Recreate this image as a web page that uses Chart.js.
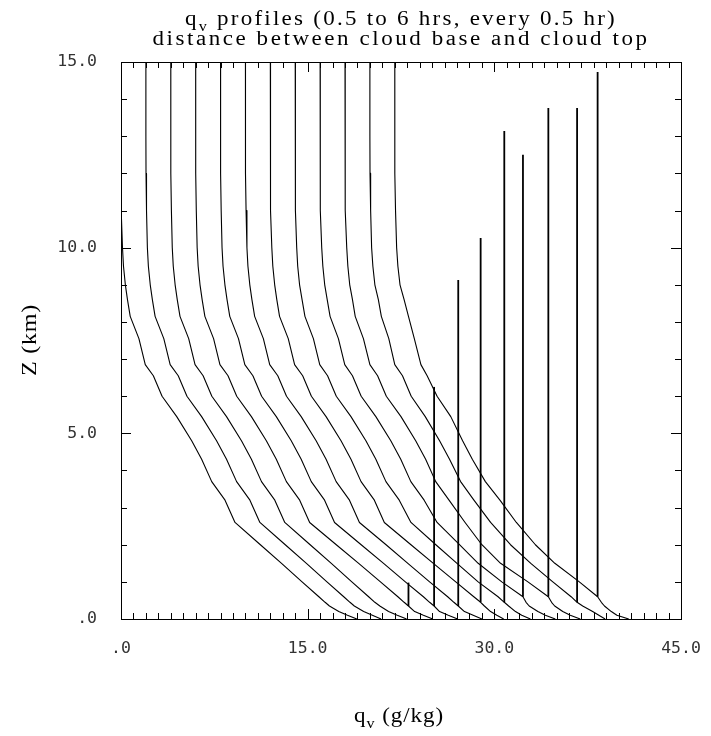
<!DOCTYPE html>
<html>
<head>
<meta charset="utf-8">
<script src="https://cdn.jsdelivr.net/npm/chart.js@4.4.0/dist/chart.umd.min.js"></script>
<style>
  html, body { margin: 0; padding: 0; background: #fff; }
</style>
</head>
<body>
<canvas id="qvChart" width="711" height="736"></canvas>
<script>
// height levels (km), shared by all profiles
const zLevels = [15, 14, 13, 12, 11, 10, 9.5, 9, 8.6, 8.15, 7.55, 6.85, 6.55, 6, 5.45, 4.8, 4.3, 3.7, 3.2, 2.6, 2, 1.5, 1, 0.6, 0.45, 0.35, 0.2, 0.1, 0];

// qv (g/kg) at each level, every profile plotted with its own offset as in the original
const qv_0_5h = [0, 0, 0, 0.01, 0.05, 0.12, 0.2, 0.35, 0.52, 0.74, 1.44, 1.95, 2.6, 3.3, 4.48, 5.68, 6.48, 7.29, 8.36, 9.16, 11.2, 12.9, 14.55, 15.9, 16.4, 16.75, 17.5, 18.2, 18.95];
const qv_1_0h = [2, 2, 2, 2.01, 2.05, 2.12, 2.2, 2.35, 2.52, 2.74, 3.44, 3.95, 4.6, 5.3, 6.48, 7.68, 8.48, 9.29, 10.36, 11.16, 13.2, 14.9, 16.55, 17.9, 18.4, 18.75, 19.5, 20.2, 20.9];
const qv_1_5h = [4, 4, 4, 4.01, 4.05, 4.12, 4.2, 4.35, 4.52, 4.74, 5.44, 5.95, 6.6, 7.3, 8.48, 9.68, 10.48, 11.29, 12.36, 13.16, 15.2, 16.9, 18.55, 19.9, 20.4, 20.8, 21.5, 22.2, 22.95];
const qv_2_0h = [6, 6, 6, 6.01, 6.05, 6.12, 6.2, 6.35, 6.52, 6.74, 7.44, 7.95, 8.6, 9.3, 10.48, 11.68, 12.48, 13.29, 14.36, 15.16, 17.3, 19.1, 20.85, 22.25, 22.75, 23.1, 23.6, 24.3, 25.05];
const qv_2_5h = [8, 8, 8, 8.01, 8.05, 8.12, 8.2, 8.35, 8.52, 8.74, 9.44, 9.95, 10.6, 11.3, 12.48, 13.68, 14.48, 15.29, 16.36, 17.16, 19.3, 21.1, 22.85, 24.3, 24.8, 25.16, 25.6, 26.3, 27.05];
const qv_3_0h = [10, 10, 10, 10.01, 10.05, 10.12, 10.2, 10.35, 10.52, 10.74, 11.44, 11.95, 12.6, 13.3, 14.48, 15.68, 16.48, 17.29, 18.36, 19.16, 21.3, 23.05, 24.8, 26.25, 26.75, 27.1, 27.6, 28.3, 29.0];
const qv_3_5h = [12, 12, 12, 12.01, 12.05, 12.12, 12.2, 12.35, 12.52, 12.74, 13.44, 13.95, 14.6, 15.3, 16.48, 17.68, 18.48, 19.29, 20.36, 21.16, 23.3, 25.1, 26.9, 28.35, 28.9, 29.2, 29.7, 30.2, 30.75];
const qv_4_0h = [14, 14, 14, 14.01, 14.05, 14.12, 14.2, 14.35, 14.55, 14.78, 15.46, 15.97, 16.6, 17.3, 18.48, 19.68, 20.48, 21.29, 22.36, 23.3, 25.3, 27.0, 28.7, 30.3, 30.8, 31.15, 31.7, 32.2, 32.9];
const qv_4_5h = [16, 16, 16, 16.01, 16.05, 16.13, 16.22, 16.37, 16.57, 16.8, 17.47, 17.98, 18.6, 19.3, 20.48, 21.68, 22.48, 23.29, 24.36, 25.4, 27.2, 28.7, 30.6, 32.3, 32.55, 32.8, 33.5, 34.1, 34.9];
const qv_5_0h = [18, 18, 18, 18.01, 18.06, 18.14, 18.23, 18.38, 18.6, 18.82, 19.48, 20.0, 20.62, 21.32, 22.5, 23.68, 24.48, 25.29, 26.36, 27.65, 29.0, 30.5, 32.7, 34.34, 34.6, 34.85, 35.5, 36.1, 36.9];
const qv_5_5h = [20, 20, 20, 20.01, 20.06, 20.14, 20.24, 20.4, 20.68, 20.92, 21.52, 22.0, 22.62, 23.32, 24.45, 25.6, 26.4, 27.29, 28.36, 29.7, 31.3, 32.93, 34.7, 36.17, 36.65, 37.1, 37.9, 38.4, 38.9];
const qv_6_0h = [22, 22, 22, 22.01, 22.06, 22.15, 22.25, 22.42, 22.75, 23.1, 23.57, 24.1, 24.6, 25.4, 26.5, 27.45, 28.23, 29.28, 30.45, 31.77, 33.3, 34.86, 36.83, 38.3, 38.6, 38.85, 39.4, 39.85, 40.8];

const profiles = [qv_0_5h, qv_1_0h, qv_1_5h, qv_2_0h, qv_2_5h, qv_3_0h, qv_3_5h, qv_4_0h, qv_4_5h, qv_5_0h, qv_5_5h, qv_6_0h];

// cloud base / top bars (2.0 to 6.0 hrs)
const cloudQv = [23.1, 25.16, 27.1, 28.9, 30.8, 32.3, 34.34, 36.65, 38.3];
const cloudBaseZ = [0.35, 0.35, 0.35, 0.45, 0.45, 0.6, 0.6, 0.45, 0.6];
const cloudTopZ = [0.98, 6.25, 9.13, 10.26, 13.14, 12.5, 13.76, 13.76, 14.73];

const xTicks = [0, 15, 30, 45];
const yTicks = [0, 5, 10, 15];

function fmtTick(v) {
    if (v === 0) return '.0';
    return v.toFixed(1);
}

let datasets = [];
profiles.forEach(function (p) {
    datasets.push({
        data: p.map((q, i) => ({ x: q, y: zLevels[i] })),
        showLine: true,
        borderColor: '#000',
        borderWidth: 1.1,
        borderJoinStyle: 'round',
        pointRadius: 0,
        tension: 0
    });
});
for (let i = 0; i < cloudQv.length; i++) {
    datasets.push({
        data: [{ x: cloudQv[i], y: cloudBaseZ[i] }, { x: cloudQv[i], y: cloudTopZ[i] }],
        showLine: true,
        borderColor: '#000',
        borderWidth: 1.8,
        pointRadius: 0
    });
}

// text with a subscript piece, widened (a bit of stretch, rest as spacing) to the original lettering
function drawRich(ctx, parts, cx, baseline, size, targetWidth) {
    const big = size + 'px "Liberation Serif"';
    const small = Math.round(size * 0.7) + 'px "Liberation Serif"';
    ctx.letterSpacing = '0px';
    let w0 = 0, n = 0;
    parts.forEach(p => {
        ctx.font = p.sub ? small : big;
        w0 += ctx.measureText(p.t).width;
        n += p.t.length;
    });
    const sx = Math.min(1.15, targetWidth / w0);
    const sp = Math.max(0, (targetWidth / sx - w0) / n);
    ctx.save();
    ctx.translate(cx - targetWidth / 2, baseline);
    ctx.scale(sx, 1);
    ctx.textAlign = 'left';
    ctx.textBaseline = 'alphabetic';
    let x = 0;
    parts.forEach(p => {
        ctx.font = p.sub ? small : big;
        ctx.letterSpacing = '0px';
        const w = ctx.measureText(p.t).width;
        ctx.letterSpacing = sp + 'px';
        ctx.fillText(p.t, x, p.sub ? size * 0.28 : 0);
        x += w + sp * p.t.length;
    });
    ctx.letterSpacing = '0px';
    ctx.restore();
}

const framePlugin = {
    id: 'frame',
    afterDraw(chart) {
        const ctx = chart.ctx;
        const a = chart.chartArea;
        const xs = chart.scales.x, ys = chart.scales.y;
        ctx.save();
        ctx.strokeStyle = '#000';
        ctx.lineWidth = 1;
        ctx.strokeRect(Math.round(a.left) + 0.5, Math.round(a.top) + 0.5, Math.round(a.right - a.left), Math.round(a.bottom - a.top));
        ctx.beginPath();
        for (let v = xs.min; v <= xs.max; v++) {
            const px = Math.round(xs.getPixelForValue(v)) + 0.5;
            const len = v % 15 === 0 ? 10 : 6;
            ctx.moveTo(px, a.bottom); ctx.lineTo(px, a.bottom - len);
            ctx.moveTo(px, a.top); ctx.lineTo(px, a.top + len);
        }
        for (let v = ys.min; v <= ys.max; v++) {
            const py = Math.round(ys.getPixelForValue(v)) + 0.5;
            const len = v % 5 === 0 ? 10 : 6;
            ctx.moveTo(a.left, py); ctx.lineTo(a.left + len, py);
            ctx.moveTo(a.right, py); ctx.lineTo(a.right - len, py);
        }
        ctx.stroke();

        ctx.fillStyle = '#000';
        const cx = (a.left + a.right) / 2;
        drawRich(ctx, [{ t: 'q' }, { t: 'v', sub: true }, { t: ' profiles (0.5 to 6 hrs, every 0.5 hr)' }], cx, 25, 20, 432);
        drawRich(ctx, [{ t: 'distance between cloud base and cloud top' }], cx, 45, 20, 497);
        drawRich(ctx, [{ t: 'q' }, { t: 'v', sub: true }, { t: ' (g/kg)' }], cx - 2, 722, 20, 90);

        ctx.save();
        ctx.translate(36, 340);
        ctx.rotate(-Math.PI / 2);
        drawRich(ctx, [{ t: 'Z (km)' }], 0, 0, 21, 72);
        ctx.restore();
        ctx.restore();
    }
};

const tickFont = { family: '"DejaVu Sans Mono"', size: 16.5 };

const config = {
    type: 'scatter',
    data: { datasets: datasets },
    options: {
        responsive: false,
        animation: false,
        layout: { padding: { top: 62, right: 30, left: 0, bottom: 0 } },
        plugins: { legend: { display: false }, tooltip: { enabled: false }, title: { display: false } },
        scales: {
            x: {
                type: 'linear', min: 0, max: 45,
                afterBuildTicks: s => { s.ticks = xTicks.map(v => ({ value: v })); },
                ticks: { callback: fmtTick, font: tickFont, color: '#333', padding: 20, maxRotation: 0, autoSkip: false },
                grid: { display: false, drawTicks: false },
                border: { display: false },
                afterFit: s => { s.height = 117; s.paddingLeft = 0; s.paddingRight = 0; }
            },
            y: {
                type: 'linear', min: 0, max: 15,
                afterBuildTicks: s => { s.ticks = yTicks.map(v => ({ value: v })); },
                ticks: { callback: fmtTick, font: tickFont, color: '#333', padding: 24, autoSkip: false },
                grid: { display: false, drawTicks: false },
                border: { display: false },
                afterFit: s => { s.width = 121; s.paddingTop = 0; s.paddingBottom = 0; }
            }
        }
    },
    plugins: [framePlugin]
};

let ctx = document.getElementById('qvChart').getContext('2d');
new Chart(ctx, config);
</script>
</body>
</html>
